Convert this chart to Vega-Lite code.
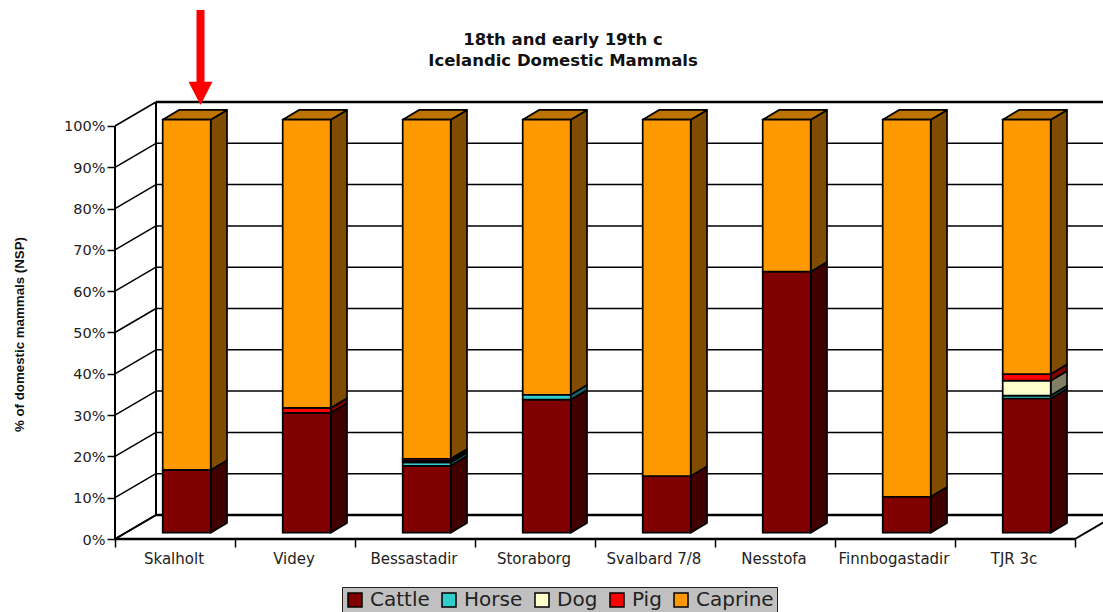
{
  "$schema": "https://vega.github.io/schema/vega-lite/v6.json",
  "width": 988,
  "height": 437,
  "autosize": {"type": "none"},
  "padding": {"left": 115, "top": 102, "right": 0, "bottom": 73},
  "background": "white",
  "title": {
    "text": ["18th and early 19th c", "Icelandic Domestic Mammals"],
    "font": "DejaVu Sans",
    "fontSize": 16.5,
    "fontWeight": "bold",
    "color": "#111111",
    "anchor": "middle",
    "frame": "group",
    "dx": -46,
    "offset": -64,
    "lineHeight": 21
  },
  "config": {
    "view": {"stroke": null},
    "axis": {"grid": false}
  },
  "datasets": {
    "sites": [
      {"site": "Skalholt", "index": 0},
      {"site": "Videy", "index": 1},
      {"site": "Bessastadir", "index": 2},
      {"site": "Storaborg", "index": 3},
      {"site": "Svalbard 7/8", "index": 4},
      {"site": "Nesstofa", "index": 5},
      {"site": "Finnbogastadir", "index": 6},
      {"site": "TJR 3c", "index": 7}
    ],
    "levels": [
      {"pct": 0}, {"pct": 10}, {"pct": 20}, {"pct": 30}, {"pct": 40}, {"pct": 50},
      {"pct": 60}, {"pct": 70}, {"pct": 80}, {"pct": 90}, {"pct": 100}
    ],
    "assemblages": [
      {"site": "Skalholt", "species": "Cattle", "value": 15.2},
      {"site": "Skalholt", "species": "Caprine", "value": 84.8},
      {"site": "Videy", "species": "Cattle", "value": 29.0},
      {"site": "Videy", "species": "Pig", "value": 1.2},
      {"site": "Videy", "species": "Caprine", "value": 69.8},
      {"site": "Bessastadir", "species": "Cattle", "value": 16.2},
      {"site": "Bessastadir", "species": "Horse", "value": 0.8},
      {"site": "Bessastadir", "species": "Dog", "value": 0.4},
      {"site": "Bessastadir", "species": "Pig", "value": 0.5},
      {"site": "Bessastadir", "species": "Caprine", "value": 82.1},
      {"site": "Storaborg", "species": "Cattle", "value": 32.2},
      {"site": "Storaborg", "species": "Horse", "value": 1.2},
      {"site": "Storaborg", "species": "Caprine", "value": 66.6},
      {"site": "Svalbard 7/8", "species": "Cattle", "value": 13.7},
      {"site": "Svalbard 7/8", "species": "Caprine", "value": 86.3},
      {"site": "Nesstofa", "species": "Cattle", "value": 63.2},
      {"site": "Nesstofa", "species": "Caprine", "value": 36.8},
      {"site": "Finnbogastadir", "species": "Cattle", "value": 8.7},
      {"site": "Finnbogastadir", "species": "Caprine", "value": 91.3},
      {"site": "TJR 3c", "species": "Cattle", "value": 32.5},
      {"site": "TJR 3c", "species": "Horse", "value": 0.7},
      {"site": "TJR 3c", "species": "Dog", "value": 3.6},
      {"site": "TJR 3c", "species": "Pig", "value": 1.6},
      {"site": "TJR 3c", "species": "Caprine", "value": 61.6}
    ],
    "marker": [
      {"site": "Skalholt", "position": 0.7125, "tail": 128.1, "neck": 110.5, "head": 107.9}
    ]
  },
  "layer": [
    {
      "description": "Back wall gridlines",
      "data": {"name": "levels"},
      "transform": [{"calculate": "datum.pct + 5.81", "as": "back"}],
      "mark": {"type": "rule", "color": "black", "strokeWidth": 1.5},
      "encoding": {
        "x": {
          "datum": 0.3417,
          "type": "quantitative",
          "scale": {"domain": [0, 8.2333], "nice": false, "zero": false},
          "axis": {
            "values": [0, 1, 2, 3, 4, 5, 6, 7, 8],
            "labels": false,
            "title": null,
            "domain": false,
            "orient": "bottom",
            "tickColor": "black",
            "tickWidth": 1.5,
            "tickSize": 8
          }
        },
        "x2": {"datum": 8.3417},
        "y": {
          "field": "back",
          "type": "quantitative",
          "scale": {"domain": [0, 105.81], "nice": false, "zero": false},
          "axis": {
            "values": [0, 10, 20, 30, 40, 50, 60, 70, 80, 90, 100],
            "labelExpr": "datum.value + '%'",
            "labelFont": "DejaVu Sans",
            "labelFontSize": 14.5,
            "labelColor": "#222222",
            "labelPadding": 2,
            "labelOffset": 1,
            "domain": false,
            "tickColor": "black",
            "tickWidth": 1.5,
            "tickSize": 8,
            "title": "% of domestic mammals (NSP)",
            "titleFont": "Liberation Sans",
            "titleFontSize": 13.3,
            "titleFontWeight": "bold",
            "titleColor": "#111111",
            "titleAngle": -90,
            "titleX": -96,
            "titleY": 232,
            "titleAlign": "center",
            "titleBaseline": "middle"
          }
        }
      }
    },
    {
      "description": "Side wall gridlines",
      "data": {"name": "levels"},
      "transform": [{"calculate": "datum.pct + 5.81", "as": "back"}],
      "mark": {"type": "rule", "color": "black", "strokeWidth": 1.5},
      "encoding": {
        "x": {"datum": 0, "type": "quantitative"},
        "x2": {"datum": 0.3417},
        "y": {"field": "pct", "type": "quantitative"},
        "y2": {"field": "back"}
      }
    },
    {
      "description": "Heavy floor edges and vertical wall edges",
      "data": {"values": [
        {"from": 0, "to": 100, "at": 0},
        {"from": 5.81, "to": 105.81, "at": 0.3417}
      ]},
      "mark": {"type": "rule", "color": "black", "strokeWidth": 2},
      "encoding": {
        "x": {"field": "at", "type": "quantitative"},
        "y": {"field": "from", "type": "quantitative"},
        "y2": {"field": "to"}
      }
    },
    {
      "description": "Floor outline: front edge, back edge, top edge",
      "data": {"values": [
        {"level": 0, "from": 0, "to": 8},
        {"level": 5.81, "from": 0.3417, "to": 8.3417},
        {"level": 105.81, "from": 0.3417, "to": 8.3417}
      ]},
      "mark": {"type": "rule", "color": "black", "strokeWidth": 2.5},
      "encoding": {
        "x": {"field": "from", "type": "quantitative"},
        "x2": {"field": "to"},
        "y": {"field": "level", "type": "quantitative"}
      }
    },
    {
      "description": "Floor side edges",
      "data": {"values": [
        {"from": 0, "to": 0.3417},
        {"from": 8, "to": 8.3417}
      ]},
      "mark": {"type": "rule", "color": "black", "strokeWidth": 2},
      "encoding": {
        "x": {"field": "from", "type": "quantitative"},
        "x2": {"field": "to"},
        "y": {"datum": 0, "type": "quantitative"},
        "y2": {"datum": 5.81}
      }
    },
    {
      "description": "Right-hand faces of the stacked columns",
      "data": {"name": "assemblages"},
      "transform": [
        {"calculate": "indexof(['Cattle','Horse','Dog','Pig','Caprine'], datum.species)", "as": "rank"},
        {"stack": "value", "groupby": ["site"], "sort": [{"field": "rank", "order": "ascending"}], "as": ["v0", "v1"]},
        {"lookup": "site", "from": {"data": {"name": "sites"}, "key": "site", "fields": ["index"]}},
        {"calculate": "datum.index + 0.7975", "as": "nearEdge"},
        {"calculate": "datum.nearEdge + 0.1358", "as": "farEdge"},
        {"fold": ["nearEdge", "farEdge"], "as": ["edge", "edgeX"]},
        {"calculate": "datum.edge === 'farEdge' ? 2.37 : 0", "as": "rise"},
        {"calculate": "datum.v0 + 1.525 + datum.rise", "as": "low"},
        {"calculate": "datum.v1 + 1.525 + datum.rise", "as": "high"},
        {"calculate": "['#400000','#1a6666','#808066','#800000','#804d00'][datum.rank]", "as": "shade"}
      ],
      "mark": {"type": "area", "orient": "vertical", "stroke": "black", "strokeWidth": 1.7, "strokeJoin": "round"},
      "encoding": {
        "x": {"field": "edgeX", "type": "quantitative"},
        "y": {"field": "low", "type": "quantitative"},
        "y2": {"field": "high"},
        "color": {"field": "shade", "type": "nominal", "scale": null},
        "detail": [{"field": "site"}, {"field": "species"}]
      }
    },
    {
      "description": "Top face of each column",
      "data": {"name": "assemblages"},
      "transform": [
        {"filter": "datum.species === 'Caprine'"},
        {"lookup": "site", "from": {"data": {"name": "sites"}, "key": "site", "fields": ["index"]}},
        {"calculate": "101.525", "as": "frontEdge"},
        {"calculate": "103.895", "as": "backEdge"},
        {"fold": ["frontEdge", "backEdge"], "as": ["edge", "edgeY"]},
        {"calculate": "datum.edge === 'backEdge' ? 0.1358 : 0", "as": "shift"},
        {"calculate": "datum.index + 0.3975 + datum.shift", "as": "left"},
        {"calculate": "datum.index + 0.7975 + datum.shift", "as": "right"}
      ],
      "mark": {"type": "area", "orient": "horizontal", "stroke": "black", "strokeWidth": 1.7, "strokeJoin": "round", "fill": "#bf7300"},
      "encoding": {
        "y": {"field": "edgeY", "type": "quantitative"},
        "x": {"field": "left", "type": "quantitative"},
        "x2": {"field": "right"},
        "detail": {"field": "site"}
      }
    },
    {
      "description": "Front faces of the stacked columns",
      "data": {"name": "assemblages"},
      "transform": [
        {"calculate": "indexof(['Cattle','Horse','Dog','Pig','Caprine'], datum.species)", "as": "rank"},
        {"stack": "value", "groupby": ["site"], "sort": [{"field": "rank", "order": "ascending"}], "as": ["v0", "v1"]},
        {"lookup": "site", "from": {"data": {"name": "sites"}, "key": "site", "fields": ["index"]}},
        {"calculate": "datum.index + 0.3975", "as": "left"},
        {"calculate": "datum.index + 0.7975", "as": "right"},
        {"calculate": "datum.v0 + 1.525", "as": "low"},
        {"calculate": "datum.v1 + 1.525", "as": "high"}
      ],
      "mark": {"type": "rect", "stroke": "black", "strokeWidth": 1.7},
      "encoding": {
        "x": {"field": "left", "type": "quantitative"},
        "x2": {"field": "right"},
        "y": {"field": "low", "type": "quantitative"},
        "y2": {"field": "high"},
        "fill": {
          "field": "species",
          "type": "nominal",
          "scale": {
            "domain": ["Cattle", "Horse", "Dog", "Pig", "Caprine"],
            "range": ["#800000", "#33cccc", "#ffffcc", "#ff0000", "#ff9900"]
          },
          "legend": {
            "title": null,
            "orient": "none",
            "direction": "horizontal",
            "columns": 5,
            "legendX": 227,
            "legendY": 485,
            "fillColor": "#c0c0c0",
            "strokeColor": "#222222",
            "padding": 3,
            "symbolType": "square",
            "symbolSize": 196,
            "symbolStrokeColor": "black",
            "symbolStrokeWidth": 1.5,
            "symbolOpacity": 1,
            "labelFont": "DejaVu Sans",
            "labelFontSize": 20,
            "labelColor": "#222222",
            "labelOffset": 5,
            "columnPadding": 9
          }
        }
      }
    },
    {
      "description": "Site names under the front axis",
      "data": {"name": "sites"},
      "transform": [{"calculate": "datum.index + 0.5", "as": "centre"}],
      "mark": {"type": "text", "font": "DejaVu Sans", "fontSize": 15, "color": "#222222", "dy": 20, "dx": -1, "baseline": "middle", "align": "center"},
      "encoding": {
        "x": {"field": "centre", "type": "quantitative"},
        "y": {"datum": 0, "type": "quantitative"},
        "text": {"field": "site"}
      }
    },
    {
      "description": "Shaft of the red marker above Skalholt",
      "data": {"name": "marker"},
      "mark": {"type": "rule", "color": "#ff0000", "strokeWidth": 8},
      "encoding": {
        "x": {"field": "position", "type": "quantitative"},
        "y": {"field": "tail", "type": "quantitative"},
        "y2": {"field": "neck"}
      }
    },
    {
      "description": "Head of the red marker",
      "data": {"name": "marker"},
      "mark": {"type": "point", "filled": true, "color": "#ff0000", "opacity": 1, "size": 576, "shape": "M-1,-0.96L1,-0.96L0,0.96Z"},
      "encoding": {
        "x": {"field": "position", "type": "quantitative"},
        "y": {"field": "head", "type": "quantitative"}
      }
    }
  ],
  "resolve": {"scale": {"color": "independent"}}
}
